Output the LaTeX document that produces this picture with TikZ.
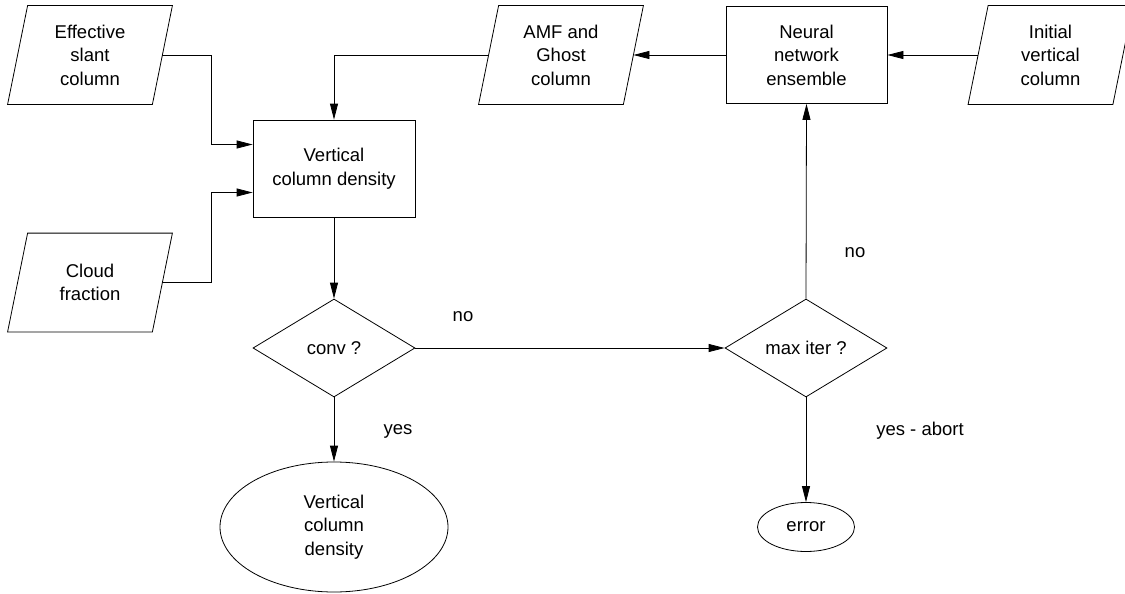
\documentclass[tikz,border=0pt]{standalone}
\usepackage{fontspec}
\setmainfont{Liberation Sans}
\usetikzlibrary{arrows.meta,shapes.geometric}
\begin{document}
\begin{tikzpicture}[x=1pt,y=-1pt,line width=0.8pt,
  every node/.style={font=\fontsize{18.5}{23.5}\selectfont, align=center, inner sep=0pt},
  iobox/.style={minimum width=144pt, minimum height=98pt},
  procbox/.style={draw, minimum width=161pt, minimum height=97pt},
  decbox/.style={draw, diamond, minimum width=162pt, minimum height=98pt, aspect=1.65},
  termbox/.style={draw, ellipse},
  flow/.style={-{Triangle[length=16pt,width=8pt]}}]
\useasboundingbox (0,0) rectangle (1125,594);

\node[iobox] (eff) at (90,55) {Effective\\slant\\column};
\node[iobox] (cloud) at (90,282.5) {Cloud\\fraction};
\node[iobox] (amf) at (561,55) {AMF and\\Ghost\\column};
\node[iobox] (init) at (1050.5,55) {Initial\\vertical\\column};
\foreach \n in {eff,cloud,amf,init}
  \draw ([xshift=10pt]\n.north west) -- ([xshift=10pt]\n.north east)
     -- ([xshift=-10pt]\n.south east) -- ([xshift=-10pt]\n.south west) -- cycle;

\node[procbox] (nn) at (806.5,55) {Neural\\network\\ensemble};
\node[procbox, minimum width=162pt] (vcd) at (334,168.5) {Vertical\\column density};
\node[decbox] (conv) at (334,348) {conv ?};
\node[decbox] (maxit) at (806,348) {max iter ?};
\node[termbox, minimum width=228pt, minimum height=130pt] (res) at (334,527) {Vertical\\column\\density};
\node[termbox, minimum width=97pt, minimum height=49pt] (err) at (806,527) {error};

\node (no1) at (463,317) {no};
\node (yes1) at (398,431) {yes};
\node (no2) at (855,253) {no};
\node (yes2) at (920,431) {yes - abort};

\draw[flow] (eff.east) -| ([xshift=-41pt,yshift=24pt]vcd.west) -- ([yshift=24pt]vcd.west);
\draw[flow] (cloud.east) -| ([xshift=-41pt,yshift=-24pt]vcd.west) -- ([yshift=-24pt]vcd.west);
\draw[flow] (amf.west) -| (vcd.north);
\draw[flow] (nn.west) -- (amf.east);
\draw[flow] (init.west) -- (nn.east);
\draw[flow] (vcd.south) -- (conv.north);
\draw[flow] (conv.east) -- (maxit.west);
\draw[flow] (conv.south) -- (res.north);
\draw[flow] (maxit.north) -- (nn.south);
\draw[flow] (maxit.south) -- (err.north);
\end{tikzpicture}
\end{document}
